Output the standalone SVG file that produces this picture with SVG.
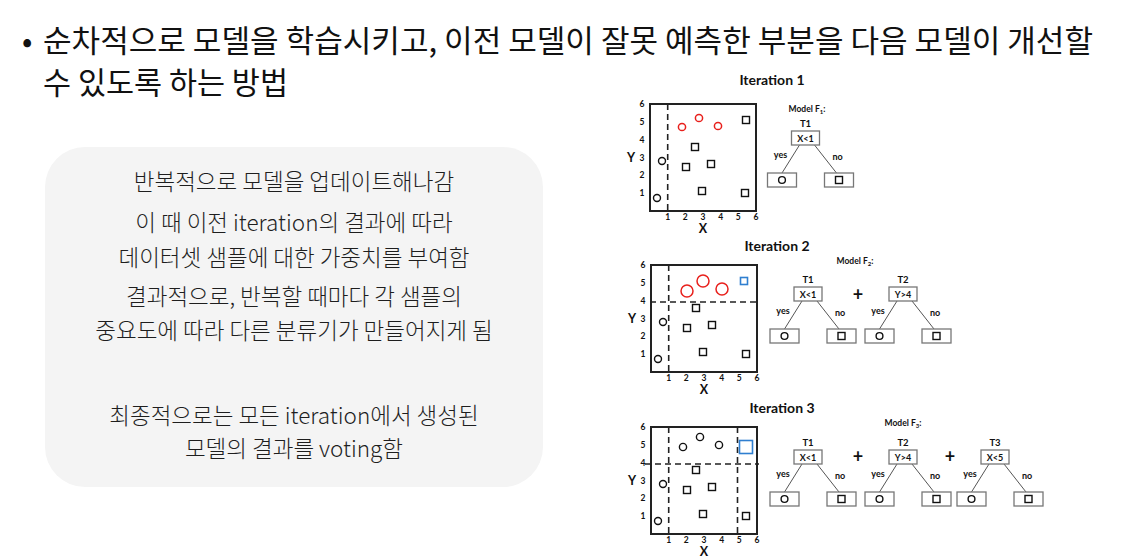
<svg xmlns="http://www.w3.org/2000/svg" width="1128" height="559" viewBox="0 0 1128 559">
<style>
.ttl{font-family:"Noto Sans CJK KR","Noto Sans",sans-serif;font-size:30.5px;font-weight:400;fill:#111}
.bx{font-family:"Noto Sans CJK KR","Noto Sans",sans-serif;font-size:22.5px;font-weight:300;fill:#1e1e1e;text-anchor:middle}
.c{font-family:Lato,"Liberation Sans",sans-serif;font-weight:bold;fill:#111;text-anchor:middle}
.it{font-size:14px}
.tk{font-size:8.5px}
.ax{font-size:12.5px}
.md{font-size:8.5px}
.tl{font-size:9.5px}
.nd{font-size:9px}
.yn{font-size:9px}
.pl{font-size:18px}
.frame{fill:#fff;stroke:#222;stroke-width:2}
.dash{stroke:#222;stroke-width:1.6;stroke-dasharray:6 4;fill:none}
.pt{fill:none;stroke:#111;stroke-width:1.4}
.red{fill:none;stroke:#e8201c;stroke-width:1.5}
.blue{fill:none;stroke:#2f7fd0;stroke-width:1.6}
.nb{fill:#fff;stroke:#777;stroke-width:1.3}
.ln{stroke:#555;stroke-width:1;fill:none}
</style>
<defs>
<g id="axes">
<rect class="frame" x="0" y="0" width="106" height="107"/>
<g class="c tk">
<text x="-8" y="3">6</text><text x="-8" y="21">5</text><text x="-8" y="39">4</text><text x="-8" y="57">3</text><text x="-8" y="74">2</text><text x="-8" y="92">1</text>
<text x="17.7" y="116">1</text><text x="35.3" y="116">2</text><text x="53" y="116">3</text><text x="70.7" y="116">4</text><text x="88.3" y="116">5</text><text x="106" y="116">6</text>
</g>
<text class="c ax" x="53" y="129">X</text>
<text class="c ax" x="-19" y="58">Y</text>
</g>
<g id="base">
<circle class="pt" cx="12" cy="57" r="3.5"/>
<circle class="pt" cx="7" cy="94" r="3.5"/>
<rect class="pt" x="41.5" y="39.5" width="7" height="7"/>
<rect class="pt" x="32.5" y="59.5" width="7" height="7"/>
<rect class="pt" x="57.5" y="56.5" width="7" height="7"/>
<rect class="pt" x="48.5" y="83.5" width="7" height="7"/>
<rect class="pt" x="91.5" y="85.5" width="7" height="7"/>
</g>
<g id="leaves">
<line class="ln" x1="-6" y1="14" x2="-23.5" y2="42"/>
<line class="ln" x1="9" y1="14" x2="31" y2="42"/>
<rect class="nb" x="-14" y="0" width="28" height="14"/>
<rect class="nb" x="-38" y="42" width="29" height="14"/>
<rect class="nb" x="19" y="42" width="29" height="14"/>
<circle class="pt" cx="-23.5" cy="49" r="3.4"/>
<rect class="pt" x="30" y="45.5" width="7" height="7"/>
<text class="c yn" x="-25" y="27">yes</text>
<text class="c yn" x="32" y="29">no</text>
</g>
</defs>

<g id="title">
<text class="ttl" x="22" y="52">•</text>
<text class="ttl" x="43" y="52" textLength="1050" lengthAdjust="spacingAndGlyphs">순차적으로 모델을 학습시키고, 이전 모델이 잘못 예측한 부분을 다음 모델이 개선할</text>
<text class="ttl" x="43" y="94">수 있도록 하는 방법</text>
</g>

<g id="desc">
<rect x="45" y="147" width="498" height="340" rx="40" ry="40" fill="#f4f4f4"/>
<text class="bx" x="294" y="190">반복적으로 모델을 업데이트해나감</text>
<text class="bx" x="294" y="231">이 때 이전 iteration의 결과에 따라</text>
<text class="bx" x="294" y="266">데이터셋 샘플에 대한 가중치를 부여함</text>
<text class="bx" x="294" y="305">결과적으로, 반복할 때마다 각 샘플의</text>
<text class="bx" x="294" y="339">중요도에 따라 다른 분류기가 만들어지게 됨</text>
<text class="bx" x="294" y="424">최종적으로는 모든 iteration에서 생성된</text>
<text class="bx" x="294" y="457">모델의 결과를 voting함</text>
</g>

<g id="iteration1">
<text class="c it" x="772" y="85">Iteration 1</text>
<g transform="translate(650,104)">
<use href="#axes"/>
<line class="dash" x1="17.7" y1="0" x2="17.7" y2="107"/>
<use href="#base"/>
<circle class="red" cx="32" cy="23" r="3.6"/>
<circle class="red" cx="49" cy="14" r="3.6"/>
<circle class="red" cx="68" cy="22" r="3.6"/>
<rect class="pt" x="92.5" y="12.5" width="7" height="7"/>
</g>
<text class="c md" x="807" y="112">Model F<tspan font-size="6" dy="2">1</tspan><tspan dy="-2">:</tspan></text>
<text class="c tl" x="805.5" y="127">T1</text>
<g transform="translate(805.5,131)"><use href="#leaves"/><text class="c nd" x="0" y="10.5">X&lt;1</text></g>
</g>

<g id="iteration2">
<text class="c it" x="777" y="251">Iteration 2</text>
<g transform="translate(651,265)">
<use href="#axes"/>
<line class="dash" x1="17.7" y1="0" x2="17.7" y2="107"/>
<line class="dash" x1="-1" y1="37" x2="107" y2="37"/>
<use href="#base"/>
<circle class="red" cx="36" cy="26" r="6"/>
<circle class="red" cx="52" cy="16" r="6"/>
<circle class="red" cx="71" cy="24" r="6"/>
<rect class="blue" x="89.5" y="12.5" width="7" height="7"/>
</g>
<text class="c md" x="855" y="264">Model F<tspan font-size="6" dy="2">2</tspan><tspan dy="-2">:</tspan></text>
<text class="c tl" x="808" y="283">T1</text>
<g transform="translate(808,287)"><use href="#leaves"/><text class="c nd" x="0" y="10.5">X&lt;1</text></g>
<text class="c pl" x="858" y="301">+</text>
<text class="c tl" x="903" y="283">T2</text>
<g transform="translate(903,287)"><use href="#leaves"/><text class="c nd" x="0" y="10.5">Y&gt;4</text></g>
</g>

<g id="iteration3">
<text class="c it" x="782" y="413">Iteration 3</text>
<g transform="translate(651,427)">
<use href="#axes"/>
<line class="dash" x1="17.7" y1="0" x2="17.7" y2="107"/>
<line class="dash" x1="86.5" y1="0" x2="86.5" y2="107"/>
<line class="dash" x1="-6" y1="37" x2="108" y2="37"/>
<use href="#base"/>
<circle class="pt" cx="32" cy="20" r="3.6"/>
<circle class="pt" cx="49" cy="10" r="3.6"/>
<circle class="pt" cx="68" cy="18" r="3.6"/>
<rect class="blue" x="88.5" y="13.5" width="13" height="13"/>
</g>
<text class="c md" x="903" y="426">Model F<tspan font-size="6" dy="2">3</tspan><tspan dy="-2">:</tspan></text>
<text class="c tl" x="808" y="446">T1</text>
<g transform="translate(808,450)"><use href="#leaves"/><text class="c nd" x="0" y="10.5">X&lt;1</text></g>
<text class="c pl" x="858" y="463">+</text>
<text class="c tl" x="903" y="446">T2</text>
<g transform="translate(903,450)"><use href="#leaves"/><text class="c nd" x="0" y="10.5">Y&gt;4</text></g>
<text class="c pl" x="950" y="463">+</text>
<text class="c tl" x="995" y="446">T3</text>
<g transform="translate(995,450)"><use href="#leaves"/><text class="c nd" x="0" y="10.5">X&lt;5</text></g>
</g>
</svg>
